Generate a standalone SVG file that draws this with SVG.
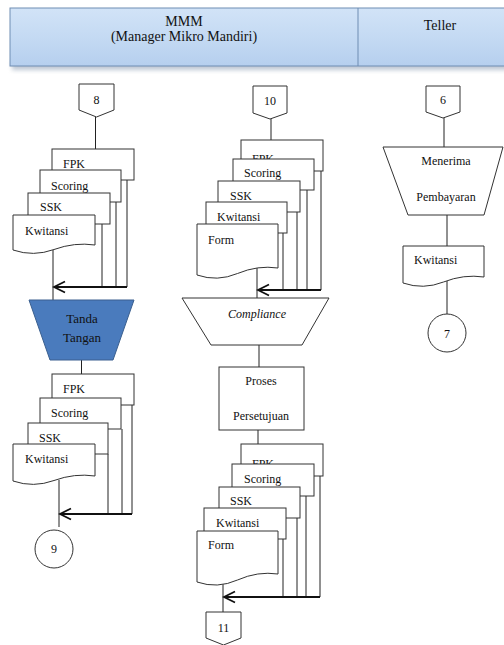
<svg xmlns="http://www.w3.org/2000/svg" width="504" height="645" viewBox="0 0 504 645">
  <defs>
    <linearGradient id="hdrFill" x1="0" y1="0" x2="0" y2="1">
      <stop offset="0" stop-color="#d2e3f7"/>
      <stop offset="0.5" stop-color="#c4daf3"/>
      <stop offset="1" stop-color="#b6cfee"/>
    </linearGradient>
    <filter id="soft" x="-5%" y="-50%" width="110%" height="200%">
      <feGaussianBlur stdDeviation="2"/>
    </filter>
    <marker id="openArrow" markerUnits="userSpaceOnUse" markerWidth="14" markerHeight="14" viewBox="0 0 14 14" refX="12" refY="7" orient="auto">
      <path d="M1,1.5 L12,7 L1,12.5" fill="none" stroke="#111" stroke-width="1.8"/>
    </marker>
  </defs>
  <style>
    text { font-family: 'Liberation Serif', 'DejaVu Serif', serif; font-size: 12px; fill: #111; }
    .hdr { font-size: 14px; }
    .shape { fill: #fff; stroke: #333; stroke-width: 1; }
    .flow { fill: none; stroke: #222; stroke-width: 1; }
    .merge { fill: none; stroke: #111; stroke-width: 2; marker-end: url(#openArrow); }
    .mid { text-anchor: middle; }
  </style>

  <rect width="504" height="645" fill="#fff"/>

  <g font-family="Liberation Serif, DejaVu Serif, serif">
  <!-- swimlane header -->
  <g id="header">
    <rect x="12" y="62" width="496" height="8" fill="#8a9bb0" opacity="0.55" filter="url(#soft)"/>
    <rect x="10" y="8" width="500" height="58" fill="url(#hdrFill)" stroke="#6f8db3" stroke-width="1"/>
    <line x1="358" y1="8" x2="358" y2="66" stroke="#6f8db3" stroke-width="1"/>
    <text class="hdr mid" x="184" y="26">MMM</text>
    <text class="hdr mid" x="184" y="41">(Manager Mikro Mandiri)</text>
    <text class="hdr mid" x="440" y="30">Teller</text>
  </g>

  <!-- connectors -->
  <g id="connectors">
    <!-- MMM left column -->
    <line class="flow" x1="95.5" y1="117" x2="95.5" y2="149"/>
    <line class="flow" x1="127" y1="180" x2="127" y2="287"/>
    <line class="flow" x1="116" y1="202" x2="116" y2="287"/>
    <line class="flow" x1="102" y1="224" x2="102" y2="287"/>
    <line class="flow" x1="53" y1="250" x2="53" y2="300"/>
    <line class="merge" x1="127" y1="287" x2="54" y2="287"/>
    <line class="flow" x1="81.5" y1="360" x2="81.5" y2="374"/>
    <line class="flow" x1="132" y1="405" x2="132" y2="514"/>
    <line class="flow" x1="122" y1="429" x2="122" y2="514"/>
    <line class="flow" x1="108" y1="454" x2="108" y2="514"/>
    <line class="flow" x1="59" y1="480" x2="59" y2="527"/>
    <line class="merge" x1="132" y1="514" x2="60" y2="514"/>

    <!-- MMM middle column -->
    <line class="flow" x1="271" y1="119" x2="271" y2="140"/>
    <line class="flow" x1="321" y1="171" x2="321" y2="290"/>
    <line class="flow" x1="307" y1="190" x2="307" y2="290"/>
    <line class="flow" x1="297" y1="212" x2="297" y2="290"/>
    <line class="flow" x1="283" y1="233" x2="283" y2="290"/>
    <line class="flow" x1="257" y1="268" x2="257" y2="298"/>
    <line class="merge" x1="321" y1="290" x2="258" y2="290"/>
    <line class="flow" x1="259" y1="345" x2="259" y2="367"/>
    <line class="flow" x1="258" y1="430" x2="258" y2="444"/>
    <line class="flow" x1="320" y1="476" x2="320" y2="597"/>
    <line class="flow" x1="306" y1="496" x2="306" y2="597"/>
    <line class="flow" x1="297" y1="518" x2="297" y2="597"/>
    <line class="flow" x1="283" y1="539" x2="283" y2="596"/>
    <line class="flow" x1="223" y1="584" x2="223" y2="612"/>
    <line class="merge" x1="320" y1="597" x2="224" y2="597"/>

    <!-- Teller column -->
    <line class="flow" x1="444" y1="118" x2="444" y2="147"/>
    <line class="flow" x1="447" y1="215" x2="447" y2="246"/>
    <line class="flow" x1="447" y1="281" x2="447" y2="314"/>
  </g>

  <!-- MMM left column -->
  <g id="offpage-8">
    <path class="shape" d="M79,84 H114 V110 L96.5,117 L79,110 Z"/>
    <text class="mid" x="96.5" y="104">8</text>
  </g>
  <g id="stack-a">
    <rect class="shape" x="52" y="149" width="82" height="31"/>
    <text x="63" y="168">FPK</text>
    <rect class="shape" x="40" y="170" width="81" height="32"/>
    <text x="51" y="190">Scoring</text>
    <rect class="shape" x="28" y="193" width="82" height="31"/>
    <text x="40" y="211">SSK</text>
    <path class="shape" d="M13,215 H95 V245 Q74.5,242 54,249.5 Q33.5,257 13,250 Z"/>
    <text x="25" y="235">Kwitansi</text>
  </g>
  <g id="tanda-tangan">
    <path d="M29,300 H134 L113,360 H50 Z" fill="#4a7bbd" stroke="#3a5f8f" stroke-width="1"/>
    <text class="mid" x="82" y="323" style="font-size:13px">Tanda</text>
    <text class="mid" x="82" y="342" style="font-size:13px">Tangan</text>
  </g>
  <g id="stack-b">
    <rect class="shape" x="52" y="374" width="82" height="31"/>
    <text x="63" y="393">FPK</text>
    <rect class="shape" x="40" y="398" width="81" height="31"/>
    <text x="51" y="417">Scoring</text>
    <rect class="shape" x="28" y="423" width="80" height="31"/>
    <text x="39" y="442">SSK</text>
    <path class="shape" d="M13,444 H95 V476 Q74.5,473 54,480.5 Q33.5,488 13,481 Z"/>
    <text x="25" y="463">Kwitansi</text>
  </g>
  <g id="onpage-9">
    <circle class="shape" cx="54" cy="549" r="19"/>
    <text class="mid" x="54" y="553">9</text>
  </g>

  <!-- MMM middle column -->
  <g id="offpage-10">
    <path class="shape" d="M253,86 H287 V113 L270,119 L253,113 Z"/>
    <text class="mid" x="270" y="105">10</text>
  </g>
  <g id="stack-c">
    <rect class="shape" x="241" y="140" width="82" height="31"/>
    <text x="252" y="163">FPK</text>
    <rect class="shape" x="233" y="159" width="81" height="31"/>
    <text x="244" y="177">Scoring</text>
    <rect class="shape" x="218" y="181" width="82" height="31"/>
    <text x="230" y="200">SSK</text>
    <rect class="shape" x="206" y="202" width="81" height="31"/>
    <text x="217" y="221">Kwitansi</text>
    <path class="shape" d="M197,224 H278 V268 Q257.75,265 237.5,273.5 Q217.25,282 197,275 Z"/>
    <text x="208" y="244">Form</text>
  </g>
  <g id="compliance">
    <path class="shape" d="M182,298 H329 L302,345 H211 Z"/>
    <text class="mid" x="257" y="318" font-style="italic">Compliance</text>
  </g>
  <g id="proses-persetujuan">
    <rect class="shape" x="219" y="367" width="85" height="63"/>
    <text class="mid" x="261" y="385">Proses</text>
    <text class="mid" x="261" y="420">Persetujuan</text>
  </g>
  <g id="stack-d">
    <rect class="shape" x="241" y="444" width="82" height="32"/>
    <text x="252" y="468">FPK</text>
    <rect class="shape" x="232" y="464" width="82" height="32"/>
    <text x="244" y="483">Scoring</text>
    <rect class="shape" x="219" y="487" width="81" height="31"/>
    <text x="230" y="505">SSK</text>
    <rect class="shape" x="204" y="508" width="82" height="31"/>
    <text x="216" y="527">Kwitansi</text>
    <path class="shape" d="M197,531 H278 V574 Q257.75,571 237.5,580 Q217.25,589 197,582 Z"/>
    <text x="208" y="549">Form</text>
  </g>
  <g id="offpage-11">
    <path class="shape" d="M206,612 H241 V638 L223.5,645 L206,638 Z"/>
    <text class="mid" x="223.5" y="632">11</text>
  </g>

  <!-- Teller column -->
  <g id="offpage-6">
    <path class="shape" d="M426,86 H460 V112 L443,118 L426,112 Z"/>
    <text class="mid" x="443" y="104">6</text>
  </g>
  <g id="menerima-pembayaran">
    <path class="shape" d="M383,147 H503 L484,215 H408 Z"/>
    <text class="mid" x="446" y="165">Menerima</text>
    <text class="mid" x="446" y="201">Pembayaran</text>
  </g>
  <g id="kwitansi-teller">
    <path class="shape" d="M403,246 H484 V277 Q463.75,274 443.5,282 Q423.25,290 403,283 Z"/>
    <text x="414" y="264">Kwitansi</text>
  </g>
  <g id="onpage-7">
    <circle class="shape" cx="447" cy="333" r="19"/>
    <text class="mid" x="447" y="338">7</text>
  </g>
  </g>
</svg>
